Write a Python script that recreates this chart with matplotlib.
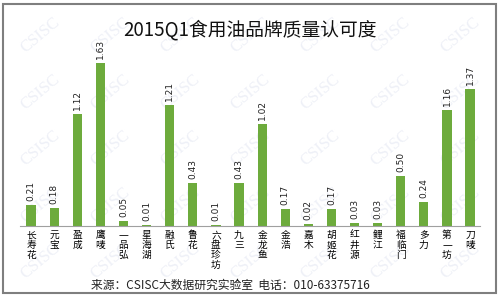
import matplotlib
matplotlib.use('Agg')
import matplotlib.pyplot as plt
from matplotlib.patches import Rectangle

plt.rcParams['font.family'] = ['Noto Sans CJK SC', 'DejaVu Sans']

brands = ['长寿花', '元宝', '盈成', '鹰唛', '一品弘', '星海湖', '融氏', '鲁花', '六盘珍坊', '九三',
          '金龙鱼', '金浩', '嘉木', '胡姬花', '红井源', '鲤江', '福临门', '多力', '第一坊', '刀唛']
values = [0.21, 0.18, 1.12, 1.63, 0.05, 0.01, 1.21, 0.43, 0.01, 0.43,
          1.02, 0.17, 0.02, 0.17, 0.03, 0.03, 0.50, 0.24, 1.16, 1.37]

fig = plt.figure(figsize=(5, 2.97), dpi=100)

# faint watermark
for row in range(5):
    for col in range(7):
        fig.text(0.08 + col * 0.14, 0.88 - row * 0.19, 'CSISC', rotation=40,
                 fontsize=12, color='#eef0f7', family='Liberation Serif',
                 ha='center', va='center', zorder=0)

ax = fig.add_axes([0.04, 0.239, 0.92, 0.64])
ax.set_zorder(2)
ax.patch.set_alpha(0)
x = list(range(len(brands)))
ax.bar(x, values, width=0.4, color='#6dab3c', zorder=2)
for xi, v in zip(x, values):
    ax.text(xi, v + 0.04, f'{v:.2f}', rotation=90, ha='center', va='bottom',
            fontsize=6.5, color='#222222', family='DejaVu Sans')

ax.set_xlim(-0.48, 19.43)
ax.set_ylim(0, 1.9)
for s in ['top', 'right', 'left']:
    ax.spines[s].set_visible(False)
ax.spines['bottom'].set_color('#a0a0a0')
ax.set_yticks([])
ax.set_xticks(x)
ax.set_xticklabels(['\n'.join(b) for b in brands], fontsize=7, linespacing=1.0,
                   va='top')
ax.tick_params(axis='x', length=0, pad=3)

fig.text(0.5, 0.9, '2015Q1食用油品牌质量认可度', ha='center', va='center',
         fontsize=13.5, color='#111111', zorder=3)
fig.text(0.46, 0.04, '来源：CSISC大数据研究实验室  电话：010-63375716', ha='center',
         va='center', fontsize=8.5, color='#222222', zorder=3)

fig.patches.append(Rectangle((0.006, 0.013), 0.985, 0.975, transform=fig.transFigure,
                             fill=False, edgecolor='#7f7f7f', linewidth=1.5))

fig.savefig('out.png', dpi=100)
